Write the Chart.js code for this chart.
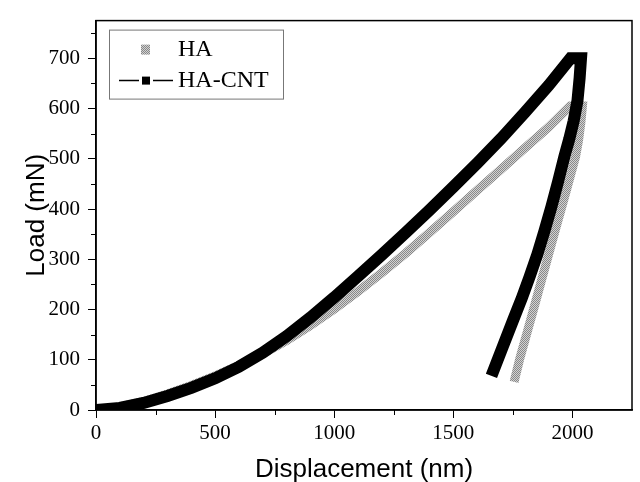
<!DOCTYPE html>
<html>
<head>
<meta charset="utf-8">
<script src="https://cdn.jsdelivr.net/npm/chart.js@4.4.0/dist/chart.umd.min.js"></script>
<style>
    html, body { margin: 0; padding: 0; background: #fff; }
</style>
</head>
<body>
<canvas id="grafico" width="640" height="482"></canvas>
<script>
// HA: carga e descarga (nm, mN)
const haX = [0, 100, 200, 300, 400, 500, 600, 700, 800, 900, 1000, 1100, 1200, 1300, 1400, 1500, 1600, 1700, 1800, 1900, 1990,
             2042, 2035, 2025, 2013, 1985, 1957, 1928, 1900, 1870, 1840, 1810, 1780, 1755];
const haY = [0, 6, 17, 32, 49, 68, 89, 112, 138, 168, 201, 236, 273, 312, 353, 395, 437, 479, 521, 563, 605,
             605, 570, 535, 504, 455, 407, 358, 310, 258, 206, 155, 104, 56];

// HA-CNT: carga e descarga
const cntX = [0, 100, 200, 300, 400, 500, 600, 700, 800, 900, 1000, 1100, 1200, 1300, 1400, 1500, 1600, 1700, 1800, 1900, 1992,
              2036, 2030, 2021, 2005, 1987, 1966, 1940, 1912, 1883, 1853, 1820, 1787, 1752, 1706, 1660];
const cntY = [0, 4, 14, 28, 44, 63, 86, 114, 147, 184, 224, 266, 309, 353, 398, 444, 491, 540, 592, 646, 700,
              700, 660, 615, 575, 540, 504, 455, 405, 357, 310, 265, 222, 180, 124, 68];

const xTicks = [0, 500, 1000, 1500, 2000];
const xMinor = [250, 750, 1250, 1750];
const yTicks = [0, 100, 200, 300, 400, 500, 600, 700];
const yMinor = [50, 150, 250, 350, 450, 550, 650, 750];

const serif = "'Liberation Serif', 'DejaVu Serif', serif";
const sans = "'Liberation Sans', Arial, sans-serif";

var canvas = document.getElementById('grafico');
var ctx = canvas.getContext('2d');

// textura pontilhada cinza da curva HA
function padraoCinza() {
    var c = document.createElement('canvas');
    c.width = 2;
    c.height = 2;
    var g = c.getContext('2d');
    g.fillStyle = '#d2d2d2';
    g.fillRect(0, 0, 2, 2);
    g.fillStyle = '#888';
    g.fillRect(0, 0, 1, 1);
    g.fillRect(1, 1, 1, 1);
    return ctx.createPattern(c, 'repeat');
}
var cinza = padraoCinza();

function pontos(xs, ys) {
    return xs.map((x, i) => ({x: x, y: ys[i]}));
}

// moldura, ticks menores e legenda
const extras = {
    id: 'extras',
    afterDraw(chart) {
        const c = chart.ctx;
        const a = chart.chartArea;
        const sx = chart.scales.x;
        const sy = chart.scales.y;
        c.save();
        c.strokeStyle = '#000';
        c.lineWidth = 1.5;
        c.strokeRect(a.left, a.top, a.right - a.left, a.bottom - a.top);

        c.lineWidth = 1;
        c.beginPath();
        xMinor.forEach(v => {
            const px = Math.round(sx.getPixelForValue(v)) + 0.5;
            c.moveTo(px, a.bottom);
            c.lineTo(px, a.bottom + 5);
        });
        yMinor.forEach(v => {
            const py = Math.round(sy.getPixelForValue(v)) + 0.5;
            c.moveTo(a.left, py);
            c.lineTo(a.left - 5, py);
        });
        c.stroke();

        // legenda
        const lx = a.left + 13, ly = a.top + 9;
        c.fillStyle = '#fff';
        c.fillRect(lx, ly, 174, 69);
        c.strokeStyle = '#777';
        c.lineWidth = 1;
        c.strokeRect(lx + 0.5, ly + 0.5, 174, 69);

        c.fillStyle = cinza;
        c.fillRect(lx + 32, ly + 15, 9, 10);

        c.strokeStyle = '#000';
        c.lineWidth = 1.5;
        c.beginPath();
        c.moveTo(lx + 10, ly + 51);
        c.lineTo(lx + 30, ly + 51);
        c.moveTo(lx + 44, ly + 51);
        c.lineTo(lx + 64, ly + 51);
        c.stroke();
        c.fillStyle = '#000';
        c.fillRect(lx + 33, ly + 47, 8, 8);

        c.font = '24px ' + serif;
        c.textBaseline = 'middle';
        c.textAlign = 'left';
        c.fillText('HA', lx + 69, ly + 20);
        c.fillText('HA-CNT', lx + 69, ly + 51);
        c.restore();
    }
};

new Chart(ctx, {
    type: 'line',
    data: {
        datasets: [{
            label: 'HA',
            data: pontos(haX, haY),
            borderColor: cinza,
            borderWidth: 9,
            borderJoinStyle: 'miter',
            pointRadius: 0,
            tension: 0,
            order: 2
        }, {
            label: 'HA-CNT',
            data: pontos(cntX, cntY),
            borderColor: '#000',
            borderWidth: 12,
            borderJoinStyle: 'miter',
            borderCapStyle: 'butt',
            pointRadius: 0,
            tension: 0,
            order: 1
        }]
    },
    options: {
        responsive: false,
        animation: false,
        layout: { padding: { top: 10, right: 8, left: 0, bottom: 0 } },
        plugins: {
            legend: { display: false },
            tooltip: { enabled: false }
        },
        scales: {
            x: {
                type: 'linear',
                min: 0,
                max: 2250,
                afterBuildTicks: s => { s.ticks = xTicks.map(v => ({value: v})); },
                afterFit: s => { s.height = 72; },
                grid: { drawOnChartArea: false, color: '#000', tickLength: 8, tickWidth: 1 },
                border: { color: '#000', width: 1.5 },
                ticks: { color: '#000', font: { family: serif, size: 21 }, padding: 3, maxRotation: 0,
                         callback: v => String(v) },
                title: { display: true, text: 'Displacement (nm)', color: '#000',
                         font: { family: sans, size: 26, lineHeight: 0.9 }, padding: { top: 0, bottom: 0 } }
            },
            y: {
                type: 'linear',
                min: 0,
                max: 775,
                afterBuildTicks: s => { s.ticks = yTicks.map(v => ({value: v})); },
                afterFit: s => { s.width = 96; },
                grid: { drawOnChartArea: false, color: '#000', tickLength: 8, tickWidth: 1 },
                border: { color: '#000', width: 1.5 },
                ticks: { color: '#000', font: { family: serif, size: 21 }, padding: 8,
                         callback: v => String(v) },
                title: { display: true, text: 'Load (mN)', color: '#000',
                         font: { family: sans, size: 26, lineHeight: 1 }, padding: { top: 24, bottom: 0 } }
            }
        }
    },
    plugins: [extras]
});
</script>
</body>
</html>
